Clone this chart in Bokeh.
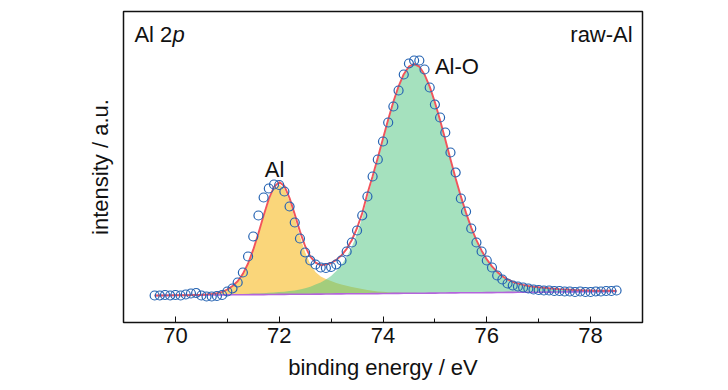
from bokeh.plotting import figure
from bokeh.models import Label, FixedTicker
from bokeh.embed import file_html
from bokeh.resources import INLINE

# ---------------- data ----------------
energy = [69.6, 69.7, 69.8, 69.9, 70.0, 70.1, 70.2, 70.3, 70.4, 70.5,
          70.6, 70.7, 70.8, 70.9, 71.0, 71.1, 71.2, 71.3, 71.4, 71.5,
          71.6, 71.7, 71.8, 71.9, 72.0, 72.1, 72.2, 72.3, 72.4, 72.5,
          72.6, 72.7, 72.8, 72.9, 73.0, 73.1, 73.2, 73.3, 73.4, 73.5,
          73.6, 73.7, 73.8, 73.9, 74.0, 74.1, 74.2, 74.3, 74.4, 74.5,
          74.6, 74.7, 74.8, 74.9, 75.0, 75.1, 75.2, 75.3, 75.4, 75.5,
          75.6, 75.7, 75.8, 75.9, 76.0, 76.1, 76.2, 76.3, 76.4, 76.5,
          76.6, 76.7, 76.8, 76.9, 77.0, 77.1, 77.2, 77.3, 77.4, 77.5,
          77.6, 77.7, 77.8, 77.9, 78.0, 78.1, 78.2, 78.3, 78.4, 78.5]

measured = [27.0, 27.0, 27.5, 27.0, 27.5, 27.0, 28.0, 29.0, 29.5, 27.0,
            26.0, 26.0, 26.5, 27.5, 31.0, 34.0, 40.0, 50.0, 66.0, 86.0,
            107.0, 125.0, 134.0, 138.0, 137.5, 131.0, 116.0, 100.0, 84.0, 70.0,
            62.0, 58.0, 55.0, 54.5, 55.5, 58.0, 62.0, 71.0, 80.0, 92.0,
            107.0, 126.0, 146.0, 163.0, 181.0, 200.0, 216.0, 232.0, 248.0, 259.0,
            262.0, 262.0, 253.0, 235.0, 218.0, 205.0, 190.0, 170.0, 150.0, 124.0,
            111.0, 94.0, 80.0, 71.0, 62.0, 55.0, 47.0, 43.0, 39.0, 37.0,
            36.0, 35.0, 34.0, 33.0, 32.5, 32.0, 32.0, 31.5, 31.5, 31.0,
            31.0, 30.5, 31.0, 30.5, 30.5, 31.0, 31.0, 31.5, 31.5, 32.0]

background = [27.0, 27.0, 27.1, 27.1, 27.2, 27.2, 27.3, 27.3, 27.4, 27.4,
              27.5, 27.5, 27.5, 27.6, 27.6, 27.7, 27.7, 27.8, 27.8, 27.9,
              27.9, 27.9, 28.0, 28.0, 28.1, 28.1, 28.2, 28.2, 28.3, 28.3,
              28.3, 28.4, 28.4, 28.5, 28.5, 28.6, 28.6, 28.7, 28.7, 28.8,
              28.8, 28.8, 28.9, 28.9, 29.0, 29.0, 29.1, 29.1, 29.2, 29.2,
              29.3, 29.3, 29.3, 29.4, 29.4, 29.5, 29.5, 29.6, 29.6, 29.7,
              29.7, 29.7, 29.8, 29.8, 29.9, 29.9, 30.0, 30.0, 30.1, 30.1,
              30.2, 30.2, 30.2, 30.3, 30.3, 30.4, 30.4, 30.5, 30.5, 30.6,
              30.6, 30.6, 30.7, 30.7, 30.8, 30.8, 30.9, 30.9, 31.0, 31.0]

al_fit = [0.0, 0.0, 0.0, 0.0, 0.0, 0.0, 0.0, 0.1, 0.2, 0.3,
          0.5, 0.9, 1.6, 2.8, 5.0, 8.3, 12.9, 20.0, 30.3, 43.9,
          60.1, 77.7, 93.8, 105.6, 110.0, 105.6, 93.0, 76.0, 58.0, 42.0,
          30.0, 22.0, 17.5, 15.0, 13.0, 11.0, 9.5, 8.0, 6.8, 5.7,
          4.6, 3.7, 2.9, 2.2, 1.7, 1.3, 1.0, 0.8, 0.6, 0.5,
          0.4, 0.3, 0.2, 0.2, 0.1, 0.0, 0.0, 0.0, 0.0, 0.0,
          0.0, 0.0, 0.0, 0.0, 0.0, 0.0, 0.0, 0.0, 0.0, 0.0,
          0.0, 0.0, 0.0, 0.0, 0.0, 0.0, 0.0, 0.0, 0.0, 0.0,
          0.0, 0.0, 0.0, 0.0, 0.0, 0.0, 0.0, 0.0, 0.0, 0.0]

alo_fit = [0.0, 0.0, 0.0, 0.0, 0.0, 0.0, 0.0, 0.0, 0.0, 0.1,
           0.1, 0.2, 0.2, 0.3, 0.4, 0.5, 0.7, 0.8, 0.9, 1.0,
           1.2, 1.4, 1.7, 2.0, 2.3, 2.7, 3.2, 3.9, 4.8, 6.0,
           7.5, 9.5, 11.5, 14.5, 18.0, 23.0, 29.0, 37.0, 47.0, 60.0,
           76.0, 96.4, 114.5, 133.7, 153.4, 172.7, 190.7, 206.3, 218.5, 226.3,
           229.0, 226.3, 218.5, 206.3, 190.7, 172.7, 153.4, 133.7, 114.5, 96.4,
           79.9, 65.2, 52.6, 42.0, 33.2, 26.2, 20.6, 16.3, 13.0, 10.6,
           8.7, 7.4, 6.3, 5.5, 4.9, 4.3, 3.8, 3.3, 2.9, 2.5,
           2.2, 1.9, 1.6, 1.4, 1.2, 1.0, 0.9, 0.8, 0.7, 0.6]

x_ticks = [70, 72, 74, 76, 78]
x_minor_ticks = [71, 73, 75, 77]

# ---------------- derived (stacking fitted components on background) ----------------
al_top = [b + a for b, a in zip(background, al_fit)]
alo_top = [b + o for b, o in zip(background, alo_fit)]
envelope = [b + a + o for b, a, o in zip(background, al_fit, alo_fit)]

FONT = "Liberation Sans"
FS = "22px"

p = figure(width=720, height=385, x_range=(69, 79), y_range=(0, 311),
           output_backend="svg", toolbar_location=None,
           min_border_left=123, min_border_right=78,
           min_border_top=11, min_border_bottom=63)

p.xgrid.visible = False
p.ygrid.visible = False
p.outline_line_color = "#111111"
p.outline_line_width = 1.5
p.background_fill_color = "white"
p.border_fill_color = "white"

# x axis
xa = p.xaxis[0]
xa.ticker = FixedTicker(ticks=x_ticks, minor_ticks=x_minor_ticks)
xa.axis_line_color = None
xa.major_tick_in = 6
xa.major_tick_out = 0
xa.minor_tick_in = 4
xa.minor_tick_out = 0
xa.major_tick_line_color = "#111111"
xa.minor_tick_line_color = "#111111"
xa.major_label_text_font = FONT
xa.major_label_text_font_size = FS
xa.major_label_text_color = "#111111"
xa.major_label_standoff = 5
xa.axis_label = "binding energy / eV"
xa.axis_label_text_font = FONT
xa.axis_label_text_font_size = FS
xa.axis_label_text_font_style = "normal"
xa.axis_label_text_color = "#111111"
xa.axis_label_standoff = 9

# y axis
ya = p.yaxis[0]
ya.ticker = FixedTicker(ticks=[])
ya.axis_line_color = None
ya.major_tick_in = 0
ya.major_tick_out = 0
ya.minor_tick_in = 0
ya.minor_tick_out = 0
ya.major_label_text_font_size = "0px"
ya.axis_label = "intensity / a.u."
ya.axis_label_text_font = FONT
ya.axis_label_text_font_size = FS
ya.axis_label_text_font_style = "normal"
ya.axis_label_text_color = "#111111"
ya.axis_label_standoff = 11

# fitted components
p.varea(x=energy, y1=background, y2=al_top, fill_color="#FAD67A", fill_alpha=1.0)
p.varea(x=energy, y1=background, y2=alo_top, fill_color="#4CC47E", fill_alpha=0.5)
p.line(energy, background, line_color="#B464DC", line_width=1.6)
p.line(energy, envelope, line_color="#F2545B", line_width=1.9)

# measured points
p.scatter(energy, measured, marker="circle", size=9, fill_color=None,
          line_color="#2563B2", line_width=1.2)

# annotations
def lab(x, y, text, align="left", style="normal", xoff=0):
    p.add_layout(Label(x=x, y=y, text=text, text_font=FONT, text_font_size=FS,
                       text_font_style=style, text_color="#111111",
                       text_align=align, text_baseline="alphabetic", x_offset=xoff))

lab(69.21, 288, "Al 2")
lab(69.21, 288, "p", style="italic", xoff=38)
lab(78.81, 288, "raw-Al", align="right")
lab(71.91, 153, "Al", align="center")
lab(75.0, 256, "Al-O")

open("out.html", "w").write(file_html(p, INLINE))
